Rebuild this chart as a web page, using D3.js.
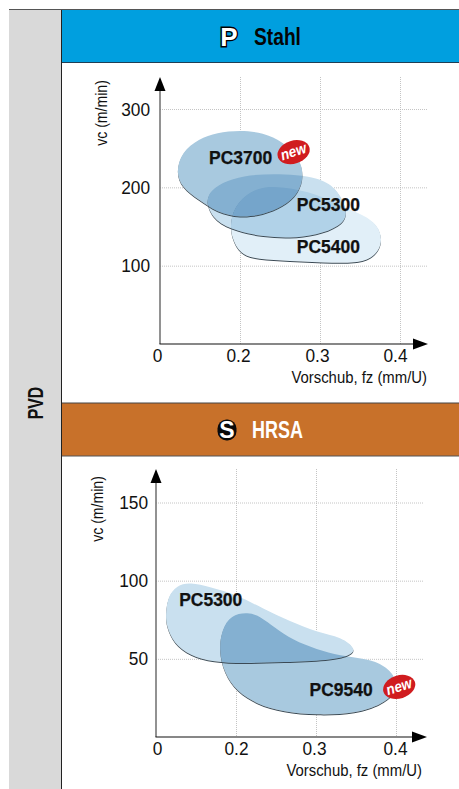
<!DOCTYPE html>
<html>
<head>
<meta charset="utf-8">
<script src="https://cdn.jsdelivr.net/npm/d3@7/dist/d3.min.js"></script>
<style>
  html, body { margin: 0; padding: 0; background: #fff; }
  svg { display: block; }
  text { font-family: "Liberation Sans", sans-serif; fill: #111; }
</style>
</head>
<body>
<svg width="459" height="789"></svg>
<script>
// axis labels, the fz axis is not evenly spaced (0, 0.2, 0.3, 0.4)
const fzTicks = [0, 0.2, 0.3, 0.4]
const vcTicksStahl = [100, 200, 300]
const vcTicksHrsa = [50, 100, 150]

// outlines (fz in mm/U, vc in m/min)
const pc5400StahlFz = [.175, .179, .2, .221, .2625, .304, .346, .367, .379, .373, .354, .329, .296, .254, .221, .192]
const pc5400StahlVc = [158, 135, 115, 108, 106, 104, 103, 110, 129, 152, 165, 175, 192, 201, 201, 181]
const pc5300StahlFz = [.114, .125, .167, .2125, .242, .271, .296, .32, .337, .325, .296, .2625, .229, .192, .1375]
const pc5300StahlVc = [180, 196, 209, 216, 217, 216, 212, 201, 167, 150, 139, 135, 137, 144, 156]
const pc3700StahlFz = [.04, .054, .097, .142, .2, .229, .254, .274, .28, .274, .254, .229, .2, .142, .097, .054]
const pc3700StahlVc = [220, 245, 262, 270, 273, 270, 258, 238, 216, 193, 175, 165, 161, 168, 184, 200]

const pc9540HrsaFz = [.157, .165, .187, .215, .231, .248, .271, .301, .33, .363, .386, .402, .398, .382, .351, .301, .259, .226, .201, .17]
const pc9540HrsaVc = [56, 69, 78, 80, 77, 70, 62, 56, 52, 50, 46, 37, 27, 21, 15, 14, 16, 21, 29, 41]
const pc5300HrsaFz = [.024, .03, .052, .085, .135, .201, .234, .2675, .301, .332, .351, .342, .3175, .259, .209, .143, .085, .044, .026]
const pc5300HrsaVc = [79, 90, 97, 99, 96, 91, 82, 74, 67, 64, 56, 52, 49, 48, 47, 48, 52, 60, 71]

const zip = (fz, vc) => fz.map((d, i) => [d, vc[i]])

// the original face is a condensed grotesque, squeeze Liberation Sans to its width
const squeeze = (sel, k) => sel.each(function () {
  d3.select(this)
    .attr("textLength", this.getComputedTextLength() * k)
    .attr("lengthAdjust", "spacingAndGlyphs")
})

const svg = d3.select("svg")
const defs = svg.append("defs")

// dark crescent on the lower edge of each blob
const edge = defs.append("filter").attr("id", "edge")
  .attr("x", "-5%").attr("y", "-5%").attr("width", "110%").attr("height", "110%")
edge.append("feOffset").attr("in", "SourceAlpha").attr("dx", 0.4).attr("dy", 1.2).attr("result", "off")
edge.append("feComposite").attr("in", "off").attr("in2", "SourceAlpha").attr("operator", "out").attr("result", "rim")
edge.append("feGaussianBlur").attr("in", "rim").attr("stdDeviation", 0.4).attr("result", "soft")
edge.append("feFlood").attr("flood-color", "#3a4a55").attr("result", "ink")
edge.append("feComposite").attr("in", "ink").attr("in2", "soft").attr("operator", "in")

// frame
svg.append("rect").attr("x", 9).attr("y", 10).attr("width", 52).attr("height", 779).attr("fill", "#d9d9d9")
svg.append("rect").attr("x", 61).attr("y", 10).attr("width", 398).attr("height", 52).attr("fill", "#009fdf")
svg.append("rect").attr("x", 61).attr("y", 403).attr("width", 398).attr("height", 53).attr("fill", "#c8712a")

const rule = (x1, y1, x2, y2, c, w) => svg.append("line")
  .attr("x1", x1).attr("y1", y1).attr("x2", x2).attr("y2", y2)
  .attr("stroke", c).attr("stroke-width", w)
rule(9, 9.5, 459, 9.5, "#555", 1)
rule(61, 62.5, 459, 62.5, "#1f3f55", 1)
rule(61, 403, 459, 403, "#444", 1)
rule(61, 456, 459, 456, "#555", 1)
rule(61.5, 10, 61.5, 789, "#222", 1)

svg.append("text")
  .attr("transform", "translate(43,403) rotate(-90)")
  .attr("text-anchor", "middle")
  .attr("font-size", 22).attr("font-weight", "bold")
  .text("PVD").call(squeeze, 0.72)

// header with the material letter
svg.append("text").attr("x", 229).attr("y", 46)
  .attr("text-anchor", "middle").attr("font-size", 26).attr("font-weight", "bold")
  .style("fill", "#fff").attr("stroke", "#000").attr("stroke-width", 2.8)
  .attr("paint-order", "stroke").text("P")
svg.append("text").attr("x", 254).attr("y", 45)
  .attr("font-size", 24).attr("font-weight", "bold").style("fill", "#050505")
  .text("Stahl").call(squeeze, 0.8)

svg.append("rect").attr("x", 217.5).attr("y", 419.5).attr("width", 19).attr("height", 21)
  .attr("rx", 9).attr("fill", "#0a0a0a")
svg.append("text").attr("x", 227).attr("y", 438)
  .attr("text-anchor", "middle").attr("font-size", 23).attr("font-weight", "bold")
  .style("fill", "#fff").text("S")
svg.append("text").attr("x", 252).attr("y", 438)
  .attr("font-size", 23).attr("font-weight", "bold").style("fill", "#fff")
  .text("HRSA").call(squeeze, 0.78)

const outline = d3.line().curve(d3.curveBasisClosed)

function arrow(g, x, y, dir) {
  // tip at x,y
  const pts = dir === "up"
    ? [[x, y], [x - 5.5, y + 14], [x + 5.5, y + 14]]
    : [[x, y], [x - 15, y - 5.5], [x - 15, y + 5.5]]
  g.append("polygon").attr("points", pts.join(" ")).attr("fill", "#000")
}

function drawChart(c) {
  const x = d3.scaleLinear().domain(fzTicks).range(c.xRange)
  const y = d3.scaleLinear().domain([0, c.vcMax]).range(c.yRange)
  const g = svg.append("g")
  const x0 = c.xRange[0], y0 = c.yRange[0]

  // dotted grid
  const grid = g.append("g").attr("stroke", "#b5b5b5").attr("stroke-width", 0.8).attr("stroke-dasharray", "1 1")
  fzTicks.slice(1).forEach(t => grid.append("line")
    .attr("x1", x(t) + .5).attr("x2", x(t) + .5).attr("y1", c.gridTop).attr("y2", y0))
  c.vcTicks.forEach(t => grid.append("line")
    .attr("x1", x0).attr("x2", c.gridRight).attr("y1", y(t) + .5).attr("y2", y(t) + .5))

  // white under the blobs so the grid stays hidden, then multiply them together
  const blobs = g.append("g").style("isolation", "isolate")
  c.blobs.forEach(b => blobs.append("path")
    .attr("d", outline(b.pts.map(p => [x(p[0]), y(p[1])])))
    .attr("fill", "#fff"))
  c.blobs.forEach(b => {
    const d = outline(b.pts.map(p => [x(p[0]), y(p[1])]))
    blobs.append("path").attr("d", d).attr("fill", b.color).style("mix-blend-mode", "multiply")
    blobs.append("path").attr("d", d).attr("fill", "#000").attr("filter", "url(#edge)")
  })

  // axes
  const yAxis = d3.axisLeft(y).tickValues(c.vcTicks).tickSize(0).tickPadding(c.yPad)
  const xAxis = d3.axisBottom(x).tickValues(fzTicks).tickSize(0).tickPadding(0)
    .tickFormat(d3.format("~g"))
  const ay = g.append("g").attr("transform", `translate(${x0},0)`).call(yAxis)
  const ax = g.append("g").attr("transform", `translate(0,${y0})`).call(xAxis)
  ay.select(".domain").remove()
  ax.select(".domain").remove()
  ay.selectAll("text").attr("font-size", 19).attr("font-family", null).call(squeeze, 0.91)
  ax.selectAll("text").attr("font-size", 19).attr("font-family", null)
    .attr("y", c.tickDrop).attr("dy", null)
    .attr("dx", (d, i) => c.tickShift[i]).call(squeeze, 0.91)

  g.append("line").attr("x1", x0).attr("x2", x0).attr("y1", y0).attr("y2", c.gridTop + 8)
    .attr("stroke", "#777").attr("stroke-width", 1.6)
  g.append("line").attr("x1", x0 - .5).attr("x2", c.arrowRight - 8).attr("y1", y0).attr("y2", y0)
    .attr("stroke", "#111").attr("stroke-width", 1.2)
  arrow(g, x0, c.gridTop, "up")
  arrow(g, c.arrowRight, y0, "right")

  g.append("text")
    .attr("transform", `translate(${x0 - 53},${c.vcLabelY}) rotate(-90)`)
    .attr("text-anchor", "middle").attr("font-size", 16).text("vc (m/min)").call(squeeze, 0.88)
  g.append("text").attr("x", c.fzLabelX).attr("y", y0 + 39)
    .attr("text-anchor", "end").attr("font-size", 16).text("Vorschub, fz (mm/U)").call(squeeze, 0.93)

  c.labels.forEach(l => g.append("text")
    .attr("x", x(l.fz)).attr("y", y(l.vc))
    .attr("font-size", 18).attr("font-weight", "bold")
    .attr("stroke", "#111").attr("stroke-width", 0.25)
    .text(l.name).call(squeeze, 0.97))

  // "new" badge
  const b = g.append("g").attr("transform", `translate(${x(c.badge[0])},${y(c.badge[1])}) rotate(-18)`)
  b.append("ellipse").attr("rx", 16.5).attr("ry", 11.5).attr("fill", "#d01c1f")
  b.append("text").attr("text-anchor", "middle").attr("y", 4.5)
    .attr("font-size", 15).attr("font-weight", "bold").attr("font-style", "italic")
    .style("fill", "#fff").text("new").call(squeeze, 0.9)
}

drawChart({
  xRange: [160, 240, 320, 400],
  yRange: [344, 109],
  vcMax: 300,
  vcTicks: vcTicksStahl,
  gridTop: 77,
  gridRight: 427,
  arrowRight: 428,
  vcLabelY: 113,
  fzLabelX: 427,
  yPad: 10,
  tickDrop: 18,
  tickShift: [-3, -2, -3, -5],
  blobs: [
    { pts: zip(pc5400StahlFz, pc5400StahlVc), color: "#e1eff8" },
    { pts: zip(pc5300StahlFz, pc5300StahlVc), color: "#c9e0ef" },
    { pts: zip(pc3700StahlFz, pc3700StahlVc), color: "#a8c9df" }
  ],
  labels: [
    { name: "PC3700", fz: .1225, vc: 230 },
    { name: "PC5300", fz: .271, vc: 170 },
    { name: "PC5400", fz: .271, vc: 116 }
  ],
  badge: [.267, 245]
})

drawChart({
  xRange: [156, 236, 316, 396],
  yRange: [737, 502.5],
  vcMax: 150,
  vcTicks: vcTicksHrsa,
  gridTop: 469,
  gridRight: 423,
  arrowRight: 427,
  vcLabelY: 509,
  fzLabelX: 422,
  yPad: 8,
  tickDrop: 18,
  tickShift: [1, 0, -2, -1],
  blobs: [
    { pts: zip(pc9540HrsaFz, pc9540HrsaVc), color: "#a8c9df" },
    { pts: zip(pc5300HrsaFz, pc5300HrsaVc), color: "#c9e0ef" }
  ],
  labels: [
    { name: "PC5300", fz: .058, vc: 84 },
    { name: "PC9540", fz: .292, vc: 26 }
  ],
  badge: [.404, 32]
})
</script>
</body>
</html>
